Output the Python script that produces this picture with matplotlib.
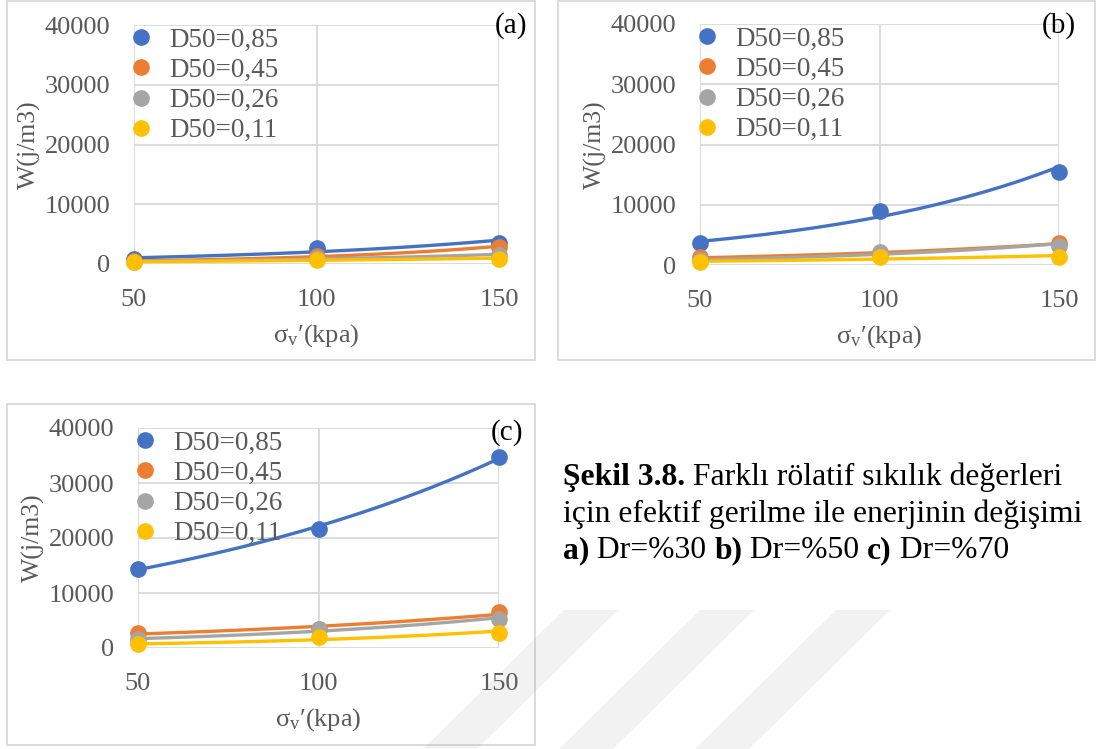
import numpy as np
import matplotlib
matplotlib.use("Agg")
import matplotlib.pyplot as plt
from matplotlib.patches import Rectangle, Polygon

plt.rcParams['font.family'] = ['Liberation Serif', 'DejaVu Serif']
plt.rcParams['mathtext.fontset'] = 'stix'

# Efektif gerilme (kPa)
sigma = [50, 100, 150]
labels = ['D50=0,85', 'D50=0,45', 'D50=0,26', 'D50=0,11']
colors = ['#4472C4', '#ED7D31', '#A5A5A5', '#FFC000']

# Dr=%30
w_a = [
    [900, 2750, 3450],
    [500, 1300, 2900],
    [400, 1000, 1500],
    [350, 750, 900],
]
# Dr=%50
w_b = [
    [3700, 9000, 15400],
    [1250, 1900, 3700],
    [800, 2200, 3200],
    [550, 1250, 1400],
]
# Dr=%70
w_c = [
    [14400, 21700, 34800],
    [2700, 3500, 6500],
    [1600, 3450, 5200],
    [650, 2000, 2700],
]

W, H = 1099, 749
fig = plt.figure(figsize=(W / 100, H / 100), dpi=100)
GRAY = '#595959'


def px(x0, y0, x1, y1):
    # piksel kutusu -> figür oranı [sol, alt, genişlik, yükseklik]
    return [x0 / W, 1 - y1 / H, (x1 - x0) / W, (y1 - y0) / H]


def panel(box, frame, data, tag, tag_xy):
    fig.patches.append(Rectangle((frame[0] / W, 1 - frame[3] / H),
                                 (frame[2] - frame[0]) / W, (frame[3] - frame[1]) / H,
                                 transform=fig.transFigure, fill=False,
                                 edgecolor='#D9D9D9', lw=1.3, zorder=0))
    ax = fig.add_axes(px(*box))
    x = np.array(sigma, dtype=float)
    xs = np.linspace(50, 150, 100)
    for vals, lab, c in zip(data, labels, colors):
        y = np.array(vals, dtype=float)
        # Excel'in üstel eğilim çizgisi
        b, a = np.polyfit(x, np.log(y), 1)
        ax.plot(xs, np.exp(a + b * xs), color=c, lw=2.4, zorder=3, solid_capstyle='round')
        ax.plot(x, y, 'o', color=c, ms=11, label=lab, zorder=4, clip_on=False)
    ax.set_xlim(50, 150)
    ax.set_ylim(0, 40000)
    ax.set_xticks(sigma)
    ax.set_yticks(range(0, 40001, 10000))
    ax.grid(True, color='#D9D9D9', lw=1.3)
    ax.set_axisbelow(True)
    for s in ax.spines.values():
        s.set_visible(False)
    ax.tick_params(length=0, labelsize=19, labelcolor=GRAY)
    ax.tick_params(axis='y', pad=17)
    ax.tick_params(axis='x', pad=18)
    ax.set_xlabel(r"$\mathregular{σ_{v}}$′(kpa)", fontsize=19, color=GRAY, labelpad=8)
    ax.set_ylabel('W(j/m3)', fontsize=18.5, color=GRAY, labelpad=3)
    # legend: işaretçi merkezi eksenin 4 px sağında
    width_px = box[2] - box[0]
    leg = ax.legend(loc='upper left', bbox_to_anchor=((4 - 13.5) / width_px, 1.0),
                    frameon=False, fontsize=19.5, handletextpad=0.55,
                    labelspacing=0.19, borderaxespad=0.0, borderpad=0.1,
                    handlelength=1.0)
    for t in leg.get_texts():
        t.set_color(GRAY)
    fig.text(tag_xy[0] / W, 1 - tag_xy[1] / H, tag, fontsize=21, ha='right', va='center')
    return ax


ax_a = panel((134, 25, 499, 264), (7, 1, 535, 360), w_a, '(a)', (527, 26))
ax_b = panel((700, 24, 1059, 265), (558, 1, 1095, 360), w_b, '(b)', (1076, 26))
ax_c = panel((138, 428, 499, 648), (7, 404, 535, 745), w_c, '(c)', (523, 433))

# filigran şeritleri
for x0 in [564, 700, 836]:
    pts = [(x0, 610), (x0 + 54, 610), (x0 + 54 - 141, 749), (x0 - 141, 749)]
    fig.patches.append(Polygon([(p[0] / W, 1 - p[1] / H) for p in pts], closed=True,
                               transform=fig.transFigure, facecolor='#808080',
                               alpha=0.1, edgecolor='none', zorder=10))

# Şekil açıklaması
fs = 22.8
lines = [
    [('Şekil 3.8.', 'bold'), (' Farklı rölatif sıkılık değerleri', 'normal')],
    [('için efektif gerilme ile enerjinin değişimi', 'normal')],
    [('a)', 'bold'), (' Dr=%30 ', 'normal'), ('b)', 'bold'), (' Dr=%50 ', 'normal'),
     ('c)', 'bold'), (' Dr=%70', 'normal')],
]
baselines = [485, 522, 558]
for pieces, yb in zip(lines, baselines):
    prev = fig.text(563 / W, 1 - yb / H, pieces[0][0], fontsize=fs,
                    fontweight=pieces[0][1], va='baseline')
    for txt, wt in pieces[1:]:
        prev = ax_c.annotate(txt, xy=(1, 0), xycoords=prev, fontsize=fs, fontweight=wt,
                             va='bottom', ha='left', annotation_clip=False)

fig.savefig('out.png', dpi=100)
